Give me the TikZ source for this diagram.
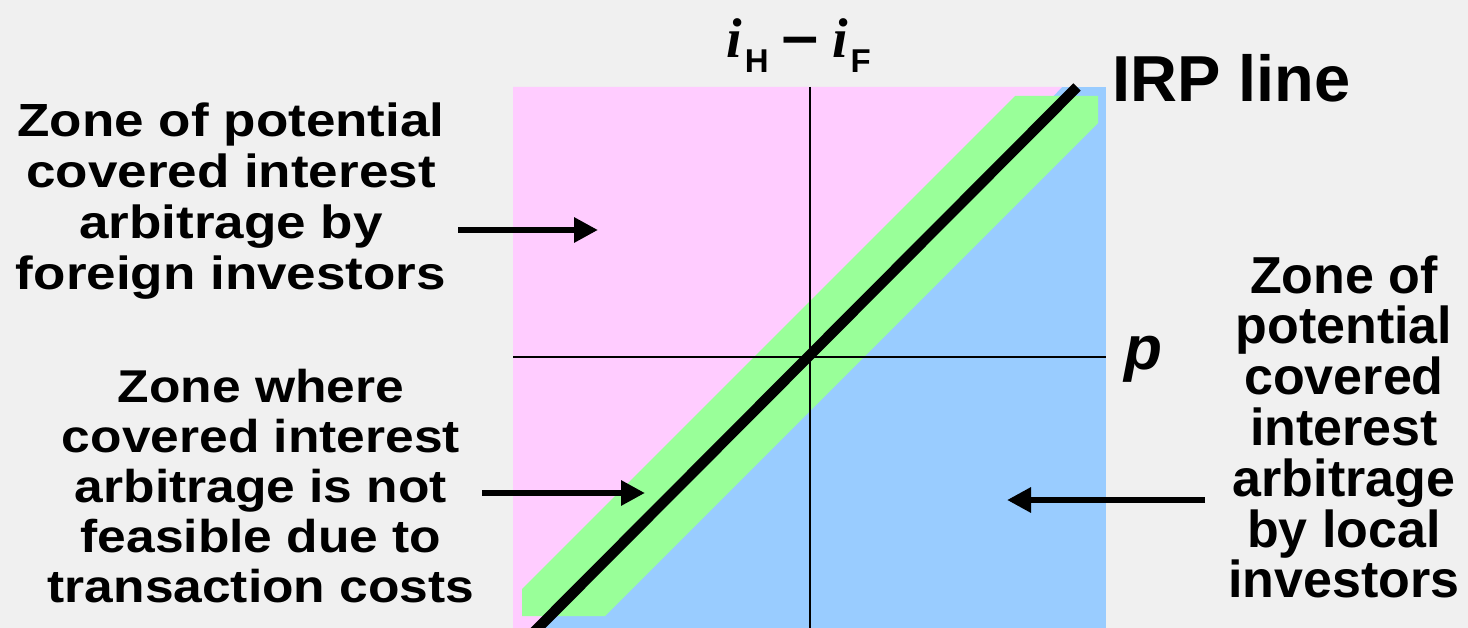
\documentclass[tikz,border=0pt]{standalone}
\usepackage{fontspec}
\usetikzlibrary{arrows.meta}
\newfontfamily\lfont{Liberation Sans}[FakeStretch=1.12]
\newfontfamily\tlfont{Liberation Sans}[FakeStretch=1.14]
\newfontfamily\rfont{Liberation Sans}
\newfontfamily\serfont{Liberation Serif}
\newfontfamily\djfont{DejaVu Sans}
\definecolor{bg}{HTML}{F0F0F0}
\definecolor{pinkz}{HTML}{FFCCFF}
\definecolor{greenz}{HTML}{99FF99}
\definecolor{bluez}{HTML}{99CCFF}
\newcommand{\xxsubH}{{\rfont\bfseries\fontsize{33}{33}\selectfont H}}
\newcommand{\xxsubF}{{\rfont\bfseries\fontsize{33}{33}\selectfont F}}
\newcommand{\xxmin}{{\djfont\bfseries\fontsize{52}{52}\selectfont −}}
\newcommand{\xxital}{{\serfont\bfseries\itshape\fontsize{56}{56}\selectfont i}}
\newcommand{\xxihif}{\xxital\kern3pt\lower15pt\hbox{\xxsubH}\kern10pt\raise1pt\hbox{\xxmin}\kern10pt\xxital\kern3pt\lower15pt\hbox{\xxsubF}}
\tikzset{
  lab/.style={inner sep=0pt, align=center, font=\lfont\bfseries\fontsize{46}{50}\selectfont},
  rlab/.style={inner sep=0pt, align=center, font=\rfont\bfseries\fontsize{52}{50.8}\selectfont},
  axisline/.style={line width=2.4pt, black},
  irp/.style={line width=10.5pt, black},
  pointer/.style={line width=6.5pt, -{Triangle[length=24pt,width=24pt]}}
}
\begin{document}
\begin{tikzpicture}[x=1pt,y=-1pt]
\useasboundingbox (0,0) rectangle (1468,628);
\fill[bg] (0,0) rectangle (1468,628);
% zones
\fill[bluez] (513,87) rectangle (1106,628);
\fill[pinkz] (513,87) -- (1062,87) -- (545,628) -- (513,628) -- cycle;
\fill[greenz] (522,589) -- (1015,96) -- (1098,96) -- (1098,123) -- (605,616) -- (522,616) -- cycle;
% axes
\coordinate (vtop) at (810,87);
\coordinate (vbot) at (810,628);
\coordinate (hleft) at (513,357);
\coordinate (hright) at (1106,357);
\draw[axisline] (vtop) -- (vbot);
\draw[axisline] (hleft) -- (hright);
% IRP line
\coordinate (irptop) at (1077,87);
\coordinate (irpbot) at (532,634);
\draw[irp] (irptop) -- (irpbot);
% axis labels
\node[inner sep=0pt, anchor=base west] (ylab) at (726,58) {\xxihif};
\node[inner sep=0pt, anchor=base west, font=\rfont\bfseries\fontsize{65}{65}\selectfont] (irplab) at (1112,102) {IRP line};
\node[inner sep=0pt, anchor=base, font=\rfont\bfseries\itshape\fontsize{62}{62}\selectfont] (xlab) at (1143,370) {p};
% zone labels
\node[lab, font=\tlfont\bfseries\fontsize{46.5}{51}\selectfont] (foreign) at (231,200.6) {Zone of potential\\covered interest\\arbitrage by\\foreign investors};
\node[lab] (notfeas) at (261,486.5) {Zone where\\covered interest\\arbitrage is not\\feasible due to\\transaction costs};
\node[rlab] (local) at (1344,427) {Zone of\\potential\\covered\\interest\\arbitrage\\by local\\investors};
% pointers
\coordinate (a1s) at (458,230);
\coordinate (a1e) at (598,230);
\coordinate (a2s) at (482,493);
\coordinate (a2e) at (645,493);
\coordinate (a3s) at (1205,500);
\coordinate (a3e) at (1007,500);
\draw[pointer] (a1s) -- (a1e);
\draw[pointer] (a2s) -- (a2e);
\draw[pointer] (a3s) -- (a3e);
\end{tikzpicture}
\end{document}
